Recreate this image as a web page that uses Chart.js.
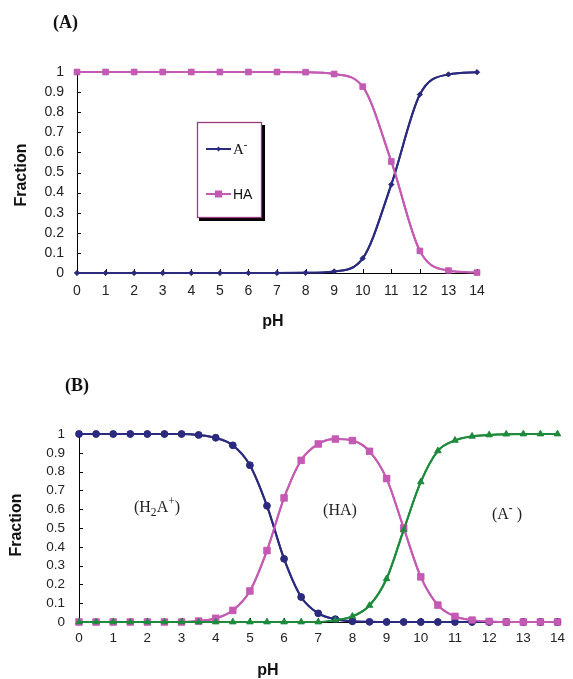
<!DOCTYPE html>
<html><head><meta charset="utf-8">
<script src="https://cdn.jsdelivr.net/npm/chart.js@4.4.1/dist/chart.umd.min.js"></script>
<style>
html,body{margin:0;padding:0;background:#fff}
body{width:573px;height:679px;overflow:hidden;position:relative}
canvas{position:absolute;left:0}
#c1{top:0}
#c2{top:340px}
</style></head><body>
<canvas id="c1" width="573" height="340"></canvas>
<canvas id="c2" width="573" height="339"></canvas>
<script>
// ---------- Data: chart (A) ----------
const pHA = [0,1,2,3,4,5,6,7,8,9,10,11,12,13,14];
const aMinusA = [0,0,0,0,0,0,0,0,0.001,0.008,0.073,0.44,0.888,0.988,0.999];
const haA =     [1,1,1,1,1,1,1,1,0.999,0.99,0.927,0.555,0.11,0.012,0.002];
const xTickLabelsA = ['0','1','2','3','4','5','6','7','8','9','10','11','12','13','14'];
const yTickLabels = ['0','0.1','0.2','0.3','0.4','0.5','0.6','0.7','0.8','0.9','1'];

// ---------- Data: chart (B) ----------
const pHB = [0,0.5,1,1.5,2,2.5,3,3.5,4,4.5,5,5.5,6,6.5,7,7.5,8,8.5,9,9.5,10,10.5,11,11.5,12,12.5,13,13.5,14];
const h2aB = [1,1,1,1,1,1,1,0.995,0.98,0.94,0.834,0.618,0.336,0.133,0.046,0.015,0.004,0.001,0,0,0,0,0,0,0,0,0,0,0];
const haB  = [0,0,0,0,0,0,0,0.005,0.02,0.062,0.165,0.38,0.66,0.86,0.947,0.973,0.965,0.908,0.763,0.5,0.24,0.09,0.03,0.01,0.003,0,0,0,0];
const aB   = [0,0,0,0,0,0,0,0,0,0,0,0,0,0,0,0.01,0.03,0.088,0.23,0.49,0.745,0.91,0.966,0.988,0.995,0.999,1,1,1];
const xTickLabelsB = ['0','1','2','3','4','5','6','7','8','9','10','11','12','13','14'];

const NAVY = '#2B2A7E', MAG = '#C45AB3', GREEN = '#1E8B3C';
const SANS = 'Arial, "Liberation Sans", sans-serif';
const SERIF = '"Times New Roman", "Liberation Serif", serif';

function pts(xs, ys){ return xs.map((x,i)=>({x:x, y:ys[i]})); }

function drawRich(ctx, parts, x, y, font, size, color, align){
  ctx.save();
  ctx.fillStyle = color;
  ctx.textBaseline = 'middle';
  ctx.textAlign = 'left';
  let total = 0;
  const widths = parts.map(p=>{
    const s = (p.sub||p.sup) ? size*0.72 : size;
    ctx.font = (p.bold?'bold ':'') + s + 'px ' + font;
    const w = ctx.measureText(p.t).width;
    total += w; return w;
  });
  let cx = align==='center' ? x - total/2 : x;
  parts.forEach((p,i)=>{
    const s = (p.sub||p.sup) ? size*0.72 : size;
    ctx.font = (p.bold?'bold ':'') + s + 'px ' + font;
    let dy = 0;
    if (p.sub) dy = size*0.28;
    if (p.sup) dy = -size*0.35;
    ctx.fillText(p.t, cx, y+dy);
    cx += widths[i];
  });
  ctx.restore();
}

const decor = {
  id:'decor',
  afterDraw(chart, args, opts){
    const ctx = chart.ctx;
    const xs = chart.scales.x, ys = chart.scales.y;
    const L = xs.getPixelForValue(0), R = xs.getPixelForValue(14);
    const T = ys.getPixelForValue(1), B = ys.getPixelForValue(0);
    ctx.save();
    // axes lines (drawn under markers visually fine)
    ctx.strokeStyle = '#000'; ctx.lineWidth = 1;
    ctx.beginPath();
    ctx.moveTo(L+0.5, T); ctx.lineTo(L+0.5, B+0.5); ctx.lineTo(R, B+0.5);
    ctx.stroke();
    // inward ticks
    ctx.beginPath();
    for (let v=0; v<=10; v++){
      const y = Math.round(ys.getPixelForValue(v/10))+0.5;
      ctx.moveTo(L, y); ctx.lineTo(L+4, y);
    }
    for (let v=0; v<=14; v++){
      const x = Math.round(xs.getPixelForValue(v))+0.5;
      ctx.moveTo(x, B); ctx.lineTo(x, B-4);
    }
    ctx.stroke();
    ctx.restore();
    // redraw datasets above axis
    chart.getSortedVisibleDatasetMetas().forEach(m=>{ m.controller.draw(); });
    if (opts.draw) opts.draw(ctx, chart);
  }
};

function baseOptions(yLabelPad, xLabelPad, fontSize, xFitH, padding, xTicks){
  return {
    responsive:false, animation:false, devicePixelRatio:1,
    layout:{padding:padding},
    plugins:{legend:{display:false}, tooltip:{enabled:false}},
    scales:{
      x:{type:'linear', min:0, max:14,
         afterFit(s){ s.height = xFitH; },
         grid:{display:false, drawTicks:false}, border:{display:false},
         ticks:{stepSize:1, padding:xLabelPad, color:'#222', maxRotation:0, autoSkip:false,
                font:{family:SANS, size:fontSize},
                callback:(v,i)=>xTicks[i]}},
      y:{min:0, max:1,
         afterFit(s){ s.width = padding.yw; },
         grid:{display:false, drawTicks:false}, border:{display:false},
         ticks:{stepSize:0.1, padding:yLabelPad, color:'#222', autoSkip:false,
                font:{family:SANS, size:fontSize},
                callback:(v,i)=>yTickLabels[i]}}
    }
  };
}

// ---------- Chart A ----------
const optA = baseOptions(13, 10, 14, 67, {left:0, right:96, top:72, bottom:0, yw:77}, xTickLabelsA);
optA.plugins.decor = { draw(ctx, chart){
  // title (A)
  ctx.save();
  ctx.fillStyle = '#111'; ctx.textBaseline='middle'; ctx.textAlign='left';
  ctx.font = 'bold 18px ' + SERIF;
  ctx.fillText('(A)', 53, 23);
  // axis titles
  ctx.font = 'bold 16px ' + SANS; ctx.textAlign='center';
  ctx.fillText('pH', 273, 322);
  ctx.translate(22, 175); ctx.rotate(-Math.PI/2);
  ctx.fillText('Fraction', 0, 0);
  ctx.restore();
  // legend box
  ctx.save();
  ctx.fillStyle = '#000';
  ctx.fillRect(199, 218, 66, 3);
  ctx.fillRect(262, 125, 3, 96);
  ctx.fillStyle = '#fff';
  ctx.fillRect(197, 122, 65, 96);
  ctx.strokeStyle = '#9B3A7E'; ctx.lineWidth = 1.3;
  ctx.strokeRect(197.5, 122.5, 64, 95);
  const ds = chart.data.datasets;
  // entry A-
  ctx.strokeStyle = ds[0].borderColor; ctx.lineWidth = 2;
  ctx.beginPath(); ctx.moveTo(206,149); ctx.lineTo(231,149); ctx.stroke();
  ctx.fillStyle = ds[0].borderColor;
  ctx.beginPath(); ctx.moveTo(218.5,146.5); ctx.lineTo(221,149); ctx.lineTo(218.5,151.5); ctx.lineTo(216,149); ctx.closePath(); ctx.fill();
  // entry HA
  ctx.strokeStyle = ds[1].borderColor;
  ctx.beginPath(); ctx.moveTo(206,194); ctx.lineTo(231,194); ctx.stroke();
  ctx.fillStyle = ds[1].borderColor;
  ctx.fillRect(215,190.5,7,7);
  ctx.restore();
  drawRich(ctx, [{t:'A'},{t:'-',sup:true,bold:true}], 233, 150, SERIF, 15, '#111', 'left');
  drawRich(ctx, [{t:ds[1].label}], 233, 195, SANS, 14, '#111', 'left');
}};
new Chart(document.getElementById('c1'), {
  type:'line',
  data:{datasets:[
    {label:'A-', data:pts(pHA, aMinusA), borderColor:NAVY, backgroundColor:NAVY, borderWidth:2,
     pointStyle:'rectRot', pointRadius:2.6, pointBorderWidth:0.5, cubicInterpolationMode:'monotone', clip:false},
    {label:'HA', data:pts(pHA, haA), borderColor:MAG, backgroundColor:MAG, borderWidth:2,
     pointStyle:'rect', pointRadius:4, pointBorderWidth:0.5, cubicInterpolationMode:'monotone', clip:false}
  ]},
  options:optA,
  plugins:[decor]
});

// ---------- Chart B ----------
const optB = baseOptions(14, 8, 13.5, 57, {left:0, right:8, top:94, bottom:0, yw:79}, xTickLabelsB);
optB.plugins.decor = { draw(ctx, chart){
  ctx.save();
  ctx.fillStyle = '#111'; ctx.textBaseline='middle'; ctx.textAlign='left';
  ctx.font = 'bold 18px ' + SERIF;
  ctx.fillText('(B)', 65, 46);
  ctx.font = 'bold 16px ' + SANS; ctx.textAlign='center';
  ctx.fillText('pH', 268, 331);
  ctx.translate(17, 185); ctx.rotate(-Math.PI/2);
  ctx.fillText('Fraction', 0, 0);
  ctx.restore();
  drawRich(ctx, [{t:'(H'},{t:'2',sub:true},{t:'A'},{t:'+',sup:true},{t:')'}], 157, 168, SERIF, 16, '#222', 'center');
  drawRich(ctx, [{t:'(HA)'}], 340, 171, SERIF, 16, '#222', 'center');
  drawRich(ctx, [{t:'(A'},{t:'-',sup:true,bold:true},{t:' )'}], 507, 175, SERIF, 16, '#222', 'center');
}};
new Chart(document.getElementById('c2'), {
  type:'line',
  data:{datasets:[
    {label:'H2A+', data:pts(pHB, h2aB), borderColor:NAVY, backgroundColor:NAVY, borderWidth:2,
     pointStyle:'circle', pointRadius:3.4, pointBorderWidth:0.5, cubicInterpolationMode:'monotone', clip:false},
    {label:'HA', data:pts(pHB, haB), borderColor:MAG, backgroundColor:MAG, borderWidth:2,
     pointStyle:'rect', pointRadius:4.6, pointBorderWidth:0.5, cubicInterpolationMode:'monotone', clip:false},
    {label:'A-', data:pts(pHB, aB), borderColor:GREEN, backgroundColor:GREEN, borderWidth:2,
     pointStyle:'triangle', pointRadius:3.8, pointBorderWidth:0.5, cubicInterpolationMode:'monotone', clip:false}
  ]},
  options:optB,
  plugins:[decor]
});
</script>
</body></html>
